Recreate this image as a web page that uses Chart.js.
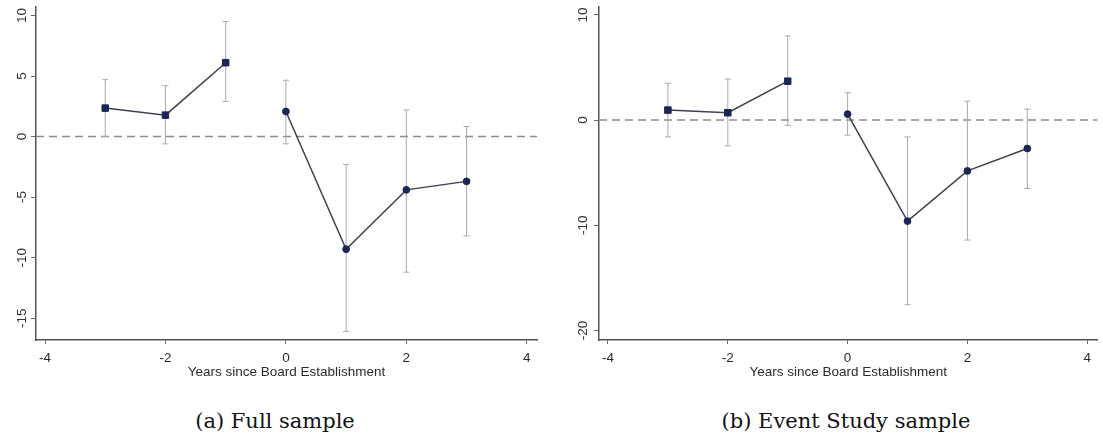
<!DOCTYPE html>
<html>
<head>
<meta charset="utf-8">
<script src="https://cdn.jsdelivr.net/npm/chart.js@4.4.0/dist/chart.umd.min.js"></script>
<style>
  body { margin: 0; background: #fff; width: 1103px; height: 441px; overflow: hidden; position: relative; }
  .panel { position: absolute; top: 0; height: 390px; }
  #boxA { left: 0; width: 550px; }
  #boxB { left: 550px; width: 553px; }
  .cap { position: absolute; top: 411px; line-height: 21px; font-family: "DejaVu Serif", serif; font-size: 21px; color: #111;
         transform: translateX(-50%); white-space: nowrap; }
</style>
</head>
<body>
<div class="panel" id="boxA"><canvas id="chartA" width="550" height="390"></canvas></div>
<div class="panel" id="boxB"><canvas id="chartB" width="553" height="390"></canvas></div>
<div class="cap" style="left:275px">(a) Full sample</div>
<div class="cap" style="left:846px">(b) Event Study sample</div>

<script>
// event time
const years = [-3, -2, -1, 0, 1, 2, 3];

// (a) full sample: estimate + 95% CI
const fullCoef = [2.35, 1.77, 6.1, 2.07, -9.3, -4.4, -3.7];
const fullLo   = [0.0, -0.6, 2.9, -0.6, -16.1, -11.2, -8.2];
const fullHi   = [4.7, 4.2, 9.5, 4.65, -2.3, 2.2, 0.83];

// (b) event study sample
const eventCoef = [0.95, 0.7, 3.7, 0.57, -9.6, -4.83, -2.7];
const eventLo   = [-1.6, -2.45, -0.5, -1.43, -17.55, -11.4, -6.5];
const eventHi   = [3.5, 3.9, 8.0, 2.6, -1.6, 1.8, 1.05];

// tick labels
const xTicks = [-4, -2, 0, 2, 4];
const fullYTicks = [-15, -10, -5, 0, 5, 10];
const eventYTicks = [-20, -10, 0, 10];

const xTitle = 'Years since Board Establishment';
const sansFont = '"Liberation Sans", Arial, sans-serif';

// dashed line at zero
const zeroLine = {
  id: 'zeroLine',
  beforeDatasetsDraw(chart) {
    const y = chart.scales.y.getPixelForValue(0);
    const a = chart.chartArea, ctx = chart.ctx;
    ctx.save();
    ctx.strokeStyle = '#8c8c8c';
    ctx.lineWidth = 1.5;
    ctx.setLineDash([8, 5]);
    ctx.beginPath();
    ctx.moveTo(a.left, y);
    ctx.lineTo(a.right, y);
    ctx.stroke();
    ctx.restore();
  }
};

// y tick labels turned 90 degrees, like stata
const rotatedYLabels = {
  id: 'rotatedYLabels',
  afterDraw(chart, args, opts) {
    const s = chart.scales.y, ctx = chart.ctx;
    ctx.save();
    ctx.font = '13.5px ' + sansFont;
    ctx.fillStyle = '#333';
    ctx.textAlign = 'center';
    ctx.textBaseline = 'middle';
    s.ticks.forEach(function (t) {
      ctx.save();
      ctx.translate(s.right - opts.gap, s.getPixelForValue(t.value));
      ctx.rotate(-Math.PI / 2);
      ctx.fillText(String(t.value), 0, 0);
      ctx.restore();
    });
    ctx.restore();
  }
};

function makeChart(id, coef, lo, hi, yTicks, yMin, yMax, axisW, padRight, labelGap) {
  const pre = [], post = [], bars = [];
  years.forEach(function (yr, i) {
    const p = { x: yr, y: coef[i] };
    if (yr < 0) pre.push(p); else post.push(p);
    bars.push({ x: yr, y: lo[i] }, { x: yr, y: hi[i] }, { x: yr, y: null });
  });

  const markColor = '#1d2553';
  const lineColor = '#3d4050';

  return new Chart(document.getElementById(id), {
    type: 'line',
    data: {
      datasets: [
        { data: pre, borderColor: lineColor, borderWidth: 1.5, pointStyle: 'rect', pointRadius: 4.6,
          pointBackgroundColor: markColor, pointBorderColor: markColor, pointBorderWidth: 1 },
        { data: post, borderColor: lineColor, borderWidth: 1.5, pointStyle: 'circle', pointRadius: 3.4,
          pointBackgroundColor: markColor, pointBorderColor: markColor, pointBorderWidth: 1 },
        { data: bars, borderColor: '#a8a8b2', borderWidth: 1, spanGaps: false, pointStyle: 'line',
          pointRadius: 3, pointBorderColor: '#a8a8b2', pointBorderWidth: 1 }
      ]
    },
    options: {
      responsive: false,
      animation: false,
      devicePixelRatio: 1,
      events: [],
      layout: { padding: { top: 7, right: padRight, left: 0, bottom: 0 } },
      plugins: {
        legend: { display: false },
        tooltip: { enabled: false },
        rotatedYLabels: { gap: labelGap }
      },
      scales: {
        x: {
          type: 'linear', min: -4.15, max: 4.17,
          afterBuildTicks: function (s) { s.ticks = xTicks.map(v => ({ value: v })); },
          afterFit: function (s) { s.height = 50; },
          grid: { display: true, drawOnChartArea: false, drawTicks: true, tickLength: 4, color: '#666', tickWidth: 1 },
          border: { display: true, color: '#555', width: 1.5 },
          ticks: { autoSkip: false, maxRotation: 0, padding: 6, color: '#2a2a2a', font: { family: sansFont, size: 13.5 },
                   callback: v => String(v) },
          title: { display: true, text: xTitle, color: '#2a2a2a', font: { family: sansFont, size: 13.5 },
                   padding: { top: 0, bottom: 10 } }
        },
        y: {
          type: 'linear', min: yMin, max: yMax,
          afterBuildTicks: function (s) { s.ticks = yTicks.map(v => ({ value: v })); },
          afterFit: function (s) { s.width = axisW; },
          grid: { display: true, drawOnChartArea: false, drawTicks: true, tickLength: 5, color: '#666', tickWidth: 1 },
          border: { display: true, color: '#555', width: 1.5 },
          ticks: { display: false }
        }
      }
    },
    plugins: [zeroLine, rotatedYLabels]
  });
}

makeChart('chartA', fullCoef, fullLo, fullHi, fullYTicks, -16.8, 10.7, 36, 13, 14);
makeChart('chartB', eventCoef, eventLo, eventHi, eventYTicks, -20.9, 10.75, 49, 5, 16);
</script>
</body>
</html>
